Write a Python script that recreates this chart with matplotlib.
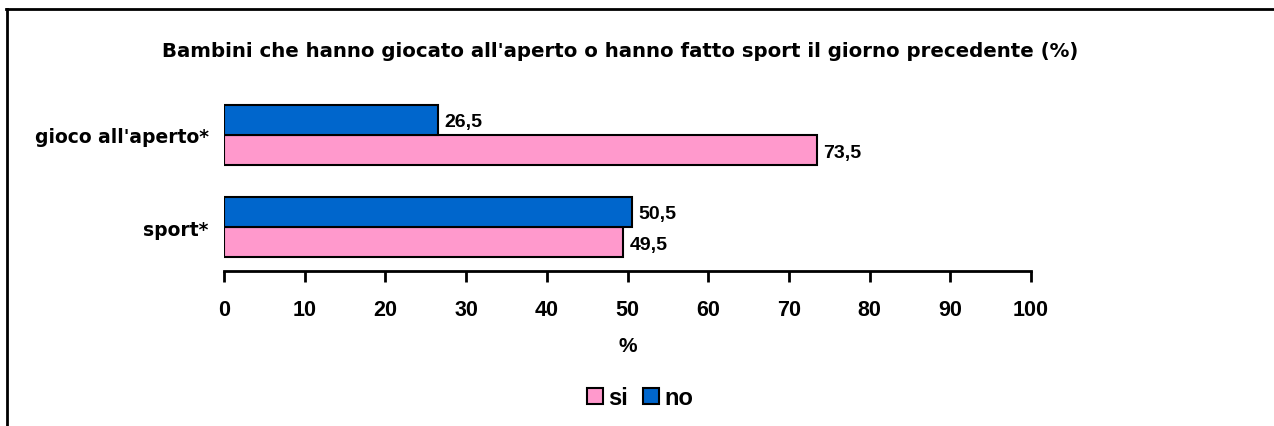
import matplotlib
matplotlib.use("Agg")
import matplotlib.pyplot as plt
from matplotlib.lines import Line2D
from matplotlib.patches import Patch

plt.rcParams["font.family"] = ["Liberation Sans", "DejaVu Sans"]
plt.rcParams["font.weight"] = "bold"

categorie = ["sport*", "gioco all'aperto*"]
si = [49.5, 73.5]
no = [50.5, 26.5]
ticks_x = [0, 10, 20, 30, 40, 50, 60, 70, 80, 90, 100]
titolo = "Bambini che hanno giocato all'aperto o hanno fatto sport il giorno precedente (%)"

PINK, BLUE = "#FF99CC", "#0066CC"
W, H = 1274, 427
WIDE = ["DejaVu Sans"]   # testo "largo" come nel riferimento

fig = plt.figure(figsize=(W / 100, H / 100), dpi=100)
ax = fig.add_axes([224 / W, (H - 272) / H, (1031 - 224) / W, (272 - 92) / H])

pos = list(range(len(categorie)))
h = 0.33
ax.barh([p - h / 2 for p in pos], si, height=h, color=PINK, edgecolor="black", lw=1.5)
ax.barh([p + h / 2 for p in pos], no, height=h, color=BLUE, edgecolor="black", lw=1.5)

for p, v in zip(pos, si):
    ax.text(v + 0.8, p - h / 2, f"{v:.1f}".replace(".", ","), va="center_baseline",
            ha="left", fontsize=14, fontweight="bold")
for p, v in zip(pos, no):
    ax.text(v + 0.8, p + h / 2, f"{v:.1f}".replace(".", ","), va="center_baseline",
            ha="left", fontsize=14, fontweight="bold")

ax.set_xlim(0, 100)
ax.set_ylim(-0.478, 1.478)
ax.set_xticks(ticks_x)
ax.set_xticklabels([str(t) for t in ticks_x], fontsize=15.5, fontweight="bold")
ax.set_yticks(pos)
ax.set_yticklabels(categorie, fontsize=13.5, fontweight="bold", family=WIDE)
ax.tick_params(axis="x", length=8, width=2, pad=12)
ax.tick_params(axis="y", length=0, pad=11)
for s in ["top", "right", "left"]:
    ax.spines[s].set_visible(False)
ax.spines["bottom"].set_linewidth(2)
ax.set_xlabel("%", fontsize=15, fontweight="bold", labelpad=12)

fig.text(620 / W, 1 - 57 / H, titolo, ha="center", va="baseline", fontsize=14.2,
         fontweight="bold", family=WIDE)

handles = [Patch(facecolor=PINK, edgecolor="black", lw=1.5, label="si"),
           Patch(facecolor=BLUE, edgecolor="black", lw=1.5, label="no")]
fig.legend(handles=handles, loc="center", bbox_to_anchor=(640 / W, 1 - 399 / H), ncol=2,
           frameon=False, handlelength=0.68, handleheight=0.68,
           handletextpad=0.25, columnspacing=0.6, prop={"weight": "bold", "size": 17})

# cornice esterna
fig.add_artist(Line2D([6 / W, 1], [1 - 10 / H, 1 - 10 / H], color="black", lw=2))
fig.add_artist(Line2D([7 / W, 7 / W], [0, 1 - 10 / H], color="black", lw=2))

fig.savefig("out.png", dpi=100)
